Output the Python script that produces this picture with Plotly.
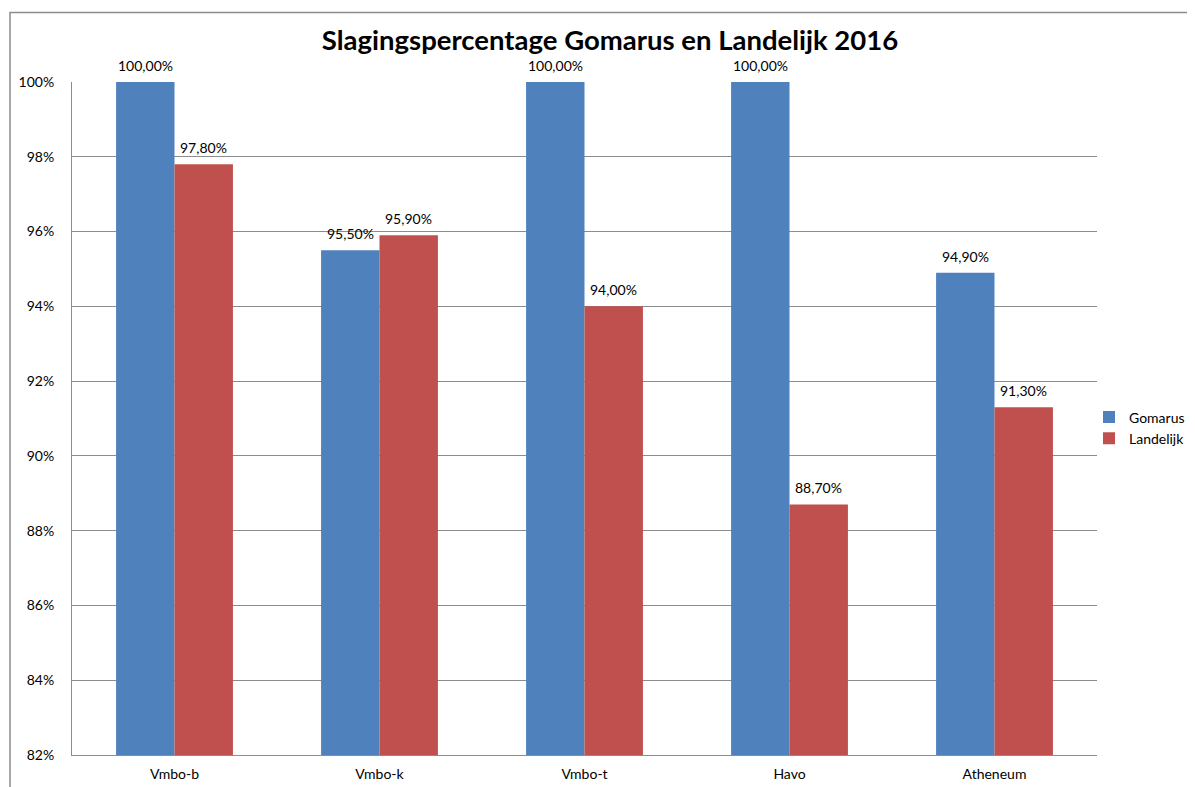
import plotly.graph_objects as go

categories = ["Vmbo-b", "Vmbo-k", "Vmbo-t", "Havo", "Atheneum"]
gomarus = [100.0, 95.5, 100.0, 100.0, 94.9]
landelijk = [97.8, 95.9, 94.0, 88.7, 91.3]
y_ticks = [82, 84, 86, 88, 90, 92, 94, 96, 98, 100]
title_text = "Slagingspercentage Gomarus en Landelijk 2016"

FONT = "Lato"
OFF = 8  # page body offset
W, H = 1195, 787
L, T = 72 - OFF, 82 - OFF
R, B = W - (1097 - OFF), H - (755 - OFF)
PW = W - L - R
PH = H - T - B
BARGAP = 0.43
bar_px = PW / len(categories) * (1 - BARGAP) / 2


def fmt(v):
    return f"{v:.2f}".replace(".", ",") + "%"


fig = go.Figure()
annotations = []
series = [("Gomarus", gomarus, "#4F81BD", -1), ("Landelijk", landelijk, "#C0504D", 1)]
for name, vals, color, side in series:
    fig.add_trace(go.Bar(
        x=categories, y=vals, name=name,
        marker=dict(color=color, line=dict(width=0)),
        cliponaxis=False,
    ))
    for c, v in zip(categories, vals):
        annotations.append(dict(
            x=c, y=v, xref="x", yref="y", text=fmt(v), showarrow=False,
            xshift=side * bar_px / 2, yshift=6, yanchor="bottom", xanchor="center",
            font=dict(family=FONT, size=14, color="#000000"),
        ))

fig.update_layout(
    width=W, height=H,
    margin=dict(l=L, r=R, t=T, b=B, autoexpand=False),
    paper_bgcolor="white", plot_bgcolor="white",
    barmode="group", bargap=BARGAP, bargroupgap=0,
    title=dict(text="<b>" + title_text + "</b>", x=(610 - OFF) / W, xanchor="center",
               y=1 - (40 - OFF) / H, yanchor="middle",
               font=dict(family=FONT, size=27.5, color="#000000")),
    font=dict(family=FONT, size=14, color="#000000"),
    legend=dict(x=(1089 - OFF - L) / PW, y=(755 - 428) / PH, xanchor="left", yanchor="middle",
                font=dict(family=FONT, size=14), itemwidth=30, tracegroupgap=6,
                bgcolor="rgba(0,0,0,0)"),
    annotations=annotations,
    shapes=[dict(type="rect", xref="paper", yref="paper",
                 x0=(10 - OFF - L) / PW, x1=1.3, y0=-0.2, y1=1 + (T - (12.5 - OFF)) / PH,
                 line=dict(color="#8C8C8C", width=1.5), layer="below")],
)
fig.update_xaxes(showgrid=False, showline=True, linecolor="#8C8C8C", linewidth=1,
                 ticks="", tickfont=dict(family=FONT, size=14), ticklabelstandoff=6)
fig.update_yaxes(range=[82, 100], tickmode="array", tickvals=y_ticks,
                 ticktext=[f"{t}%" for t in y_ticks],
                 showgrid=True, gridcolor="#8C8C8C", gridwidth=1,
                 showline=True, linecolor="#8C8C8C", linewidth=1, ticks="",
                 zeroline=False, tickfont=dict(family=FONT, size=14),
                 ticklabelstandoff=14)

fig.write_html("out.html")
